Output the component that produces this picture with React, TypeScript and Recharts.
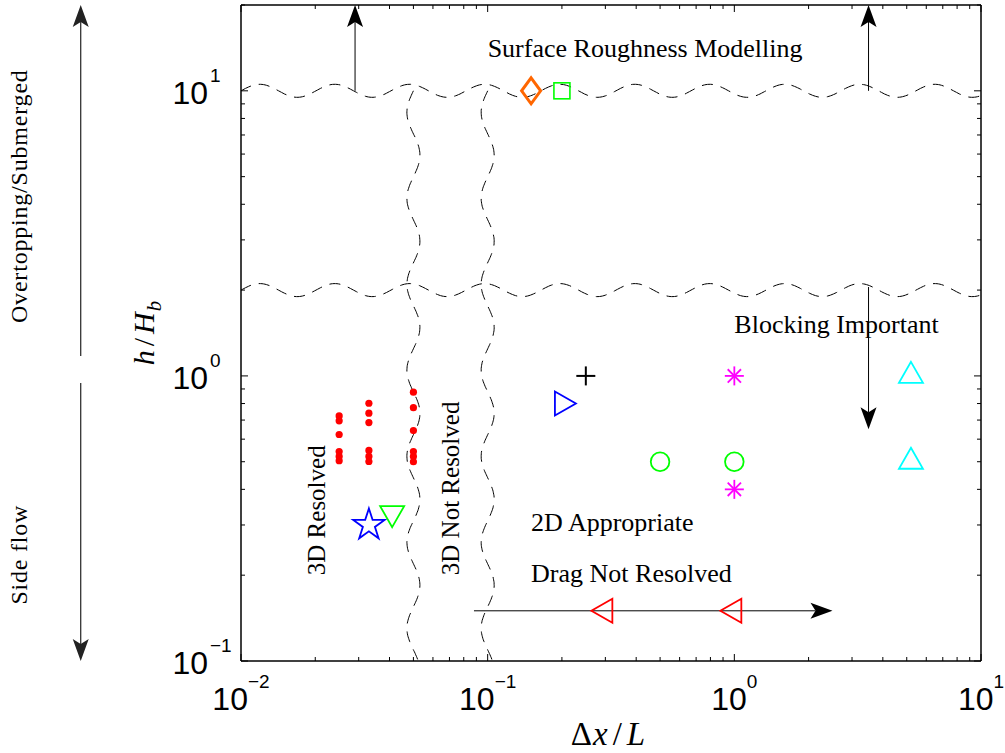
import React from "react";
import { ScatterChart, Scatter, XAxis, YAxis, ReferenceLine, ReferenceDot } from "recharts";

// axis ticks (majors get labels, the rest are minor marks)
const xTicks = [
  0.01, 0.02, 0.03, 0.04, 0.05, 0.06, 0.07, 0.08, 0.09,
  0.1, 0.2, 0.3, 0.4, 0.5, 0.6, 0.7, 0.8, 0.9,
  1, 2, 3, 4, 5, 6, 7, 8, 9, 10,
];
const yTicks = [
  0.1, 0.2, 0.3, 0.4, 0.5, 0.6, 0.7, 0.8, 0.9,
  1, 2, 3, 4, 5, 6, 7, 8, 9, 10, 20,
];

// measured cases
const diamondPoints = [{ x: 0.15, y: 10 }];
const squarePoints = [{ x: 0.2, y: 10 }];
const redDotPoints = [
  { x: 0.025, y: 0.724 }, { x: 0.025, y: 0.696 }, { x: 0.025, y: 0.623 },
  { x: 0.025, y: 0.543 }, { x: 0.025, y: 0.522 }, { x: 0.025, y: 0.504 },
  { x: 0.033, y: 0.802 }, { x: 0.033, y: 0.74 }, { x: 0.033, y: 0.686 },
  { x: 0.033, y: 0.548 }, { x: 0.033, y: 0.522 }, { x: 0.033, y: 0.501 },
  { x: 0.05, y: 0.877 }, { x: 0.05, y: 0.774 }, { x: 0.05, y: 0.643 },
  { x: 0.05, y: 0.543 }, { x: 0.05, y: 0.522 }, { x: 0.05, y: 0.5 },
];
const starPoints = [{ x: 0.033, y: 0.3 }];
const downTrianglePoints = [{ x: 0.041, y: 0.33 }];
const rightTrianglePoints = [{ x: 0.2, y: 0.8 }];
const plusPoints = [{ x: 0.25, y: 1 }];
const circlePoints = [{ x: 0.5, y: 0.5 }, { x: 1, y: 0.5 }];
const asteriskPoints = [{ x: 1, y: 1 }, { x: 1, y: 0.4 }];
const upTrianglePoints = [{ x: 5.2, y: 1 }, { x: 5.2, y: 0.5 }];
const leftTrianglePoints = [{ x: 0.3, y: 0.15 }, { x: 1, y: 0.15 }];

// regime boundaries (drawn wavy)
const horizontalBoundaries = [10, 2];
const verticalBoundaries = [
  { x: 0.05, top: 10, bottom: 0.1 },
  { x: 0.1, top: 10, bottom: 0.1 },
];

// arrows
const plotArrows = [
  { from: { x: 0.029, y: 10 }, to: { x: 0.029, y: 20 } },
  { from: { x: 3.5, y: 10 }, to: { x: 3.5, y: 20 } },
  { from: { x: 3.5, y: 2.05 }, to: { x: 3.5, y: 0.65 } },
  { from: { x: 0.088, y: 0.15 }, to: { x: 2.5, y: 0.15 } },
];
const marginArrows = [
  { from: { x: 0.00224, y: 1.175 }, to: { x: 0.00224, y: 20 } },
  { from: { x: 0.00224, y: 0.945 }, to: { x: 0.00224, y: 0.1 } },
];

// text notes
const plotNotes = [
  { x: 0.1, y: 13.1, text: "Surface Roughness Modelling" },
  { x: 1.0, y: 1.41, text: "Blocking Important" },
  { x: 0.15, y: 0.285, text: "2D Appropriate" },
  { x: 0.15, y: 0.19, text: "Drag Not Resolved" },
];
const rotatedNotes = [
  { x: 0.0219, y: 0.2, text: "3D Resolved" },
  { x: 0.0765, y: 0.2, text: "3D Not Resolved" },
];
const marginNotes = [
  { x: 0.00136, y: 4.27, text: "Overtopping/Submerged" },
  { x: 0.00136, y: 0.236, text: "Side flow" },
];

const SERIF = "'Liberation Serif', 'Times New Roman', serif";
const SANS = "'Liberation Sans', Arial, Helvetica, sans-serif";

const isMajor = (v: number) => Math.abs(Math.log10(v) - Math.round(Math.log10(v))) < 1e-6;
const expText = (v: number) => {
  const e = Math.round(Math.log10(v));
  return e < 0 ? `\u2212${-e}` : `${e}`;
};

const MAJOR_LEN = 7;
const MINOR_LEN = 4;

function BottomTick({ x, y, payload }: any) {
  const v = payload.value;
  const major = isMajor(v);
  return (
    <g>
      <line x1={x} y1={y} x2={x} y2={y - (major ? MAJOR_LEN : MINOR_LEN)} stroke="#000" strokeWidth={1} />
      {major && (
        <text x={x} y={y + 49} textAnchor="middle" fontFamily={SANS} fill="#000">
          <tspan fontSize={32}>10</tspan>
          <tspan fontSize={19} dy={-22}>{expText(v)}</tspan>
        </text>
      )}
    </g>
  );
}

function TopTick({ x, y, payload }: any) {
  const major = isMajor(payload.value);
  return <line x1={x} y1={y} x2={x} y2={y + (major ? MAJOR_LEN : MINOR_LEN)} stroke="#000" strokeWidth={1} />;
}

function LeftTick({ x, y, payload }: any) {
  const v = payload.value;
  const major = isMajor(v);
  return (
    <g>
      <line x1={x} y1={y} x2={x + (major ? MAJOR_LEN : MINOR_LEN)} y2={y} stroke="#000" strokeWidth={1} />
      {major && (
        <g fontFamily={SANS} fill="#000">
          <text x={x - 33} y={y + 13} textAnchor="end" fontSize={32}>10</text>
          <text x={x - 31} y={y - 9} textAnchor="start" fontSize={19}>{expText(v)}</text>
        </g>
      )}
    </g>
  );
}

function RightTick({ x, y, payload }: any) {
  const major = isMajor(payload.value);
  return <line x1={x} y1={y} x2={x - (major ? MAJOR_LEN : MINOR_LEN)} y2={y} stroke="#000" strokeWidth={1} />;
}

function XTitle({ viewBox }: any) {
  const cx = viewBox.x + viewBox.width / 2 - 3;
  const by = viewBox.y + 84;
  return (
    <text x={cx} y={by} textAnchor="middle" fontFamily={SERIF} fontSize={33} fill="#000">
      <tspan>Δ</tspan>
      <tspan fontStyle="italic" dx={1}>x</tspan>
      <tspan dx={5}>/</tspan>
      <tspan fontStyle="italic" dx={5}>L</tspan>
    </text>
  );
}

function YTitle({ viewBox }: any) {
  const bx = viewBox.x + viewBox.width - 87;
  const cy = viewBox.y + viewBox.height / 2;
  return (
    <text
      x={bx}
      y={cy}
      textAnchor="middle"
      transform={`rotate(-90 ${bx} ${cy})`}
      fontFamily={SERIF}
      fontSize={30}
      fill="#000"
    >
      <tspan fontStyle="italic">h</tspan>
      <tspan dx={4}>/</tspan>
      <tspan fontStyle="italic" dx={4}>H</tspan>
      <tspan fontStyle="italic" fontSize={21} dy={7} dx={1}>b</tspan>
    </text>
  );
}

// wavy dashed boundaries
const WAVE_AMP = 6.5;
const WAVE_X_PERIOD = 75;
const WAVE_Y_PERIOD = 86;

const hWave = (p: any) => {
  const x1 = Math.min(p.x1, p.x2);
  const x2 = Math.max(p.x1, p.x2);
  const pts: string[] = [];
  for (let x = x1; x <= x2 + 0.01; x += 1.5) {
    const y = p.y1 - WAVE_AMP * Math.sin((2 * Math.PI * (x - x1)) / WAVE_X_PERIOD);
    pts.push(`${x.toFixed(1)},${y.toFixed(1)}`);
  }
  return <polyline points={pts.join(" ")} fill="none" stroke="#000" strokeWidth={1} strokeDasharray="11 8" />;
};

const vWave = (p: any) => {
  const y1 = Math.min(p.y1, p.y2);
  const y2 = Math.max(p.y1, p.y2);
  const pts: string[] = [];
  for (let y = y1; y <= y2 + 0.01; y += 1.5) {
    const x = p.x1 - WAVE_AMP * Math.sin((2 * Math.PI * (y - y1)) / WAVE_Y_PERIOD);
    pts.push(`${x.toFixed(1)},${y.toFixed(1)}`);
  }
  return <polyline points={pts.join(" ")} fill="none" stroke="#000" strokeWidth={1} strokeDasharray="11 8" />;
};

// arrows with a notched head
const arrowShape = (color: string, width: number) => (p: any) => {
  const { x1, y1, x2, y2 } = p;
  const L = 22;
  const W = 16;
  const notch = 5;
  const dx = x2 - x1;
  const dy = y2 - y1;
  const len = Math.hypot(dx, dy) || 1;
  const ux = dx / len;
  const uy = dy / len;
  const nx = -uy;
  const ny = ux;
  const bx = x2 - ux * L;
  const by = y2 - uy * L;
  const mx = x2 - ux * (L - notch);
  const my = y2 - uy * (L - notch);
  const d = `M${x2},${y2} L${bx + (nx * W) / 2},${by + (ny * W) / 2} L${mx},${my} L${bx - (nx * W) / 2},${by - (ny * W) / 2} Z`;
  return (
    <g>
      <line x1={x1} y1={y1} x2={mx} y2={my} stroke={color} strokeWidth={width} />
      <path d={d} fill={color} stroke="none" />
    </g>
  );
};

// notes
const noteShape = (text: string) => (p: any) => (
  <text x={p.cx} y={p.cy} fontFamily={SERIF} fontSize={26} fill="#000">{text}</text>
);
const rotatedNoteShape = (text: string) => (p: any) => (
  <text x={p.cx} y={p.cy} transform={`rotate(-90 ${p.cx} ${p.cy})`} fontFamily={SERIF} fontSize={25} fill="#000">
    {text}
  </text>
);
const marginNoteShape = (text: string) => (p: any) => (
  <text
    x={p.cx}
    y={p.cy}
    textAnchor="middle"
    transform={`rotate(-90 ${p.cx} ${p.cy})`}
    fontFamily={SERIF}
    fontSize={24}
    letterSpacing={0.8}
    fill="#000"
  >
    {text}
  </text>
);

// markers
const GREEN = "#00ff00";
const ORANGE = "#ff6600";

const diamondShape = ({ cx, cy }: any) => (
  <path d={`M${cx},${cy - 13} L${cx + 9.5},${cy} L${cx},${cy + 13} L${cx - 9.5},${cy} Z`} fill="none" stroke={ORANGE} strokeWidth={3} />
);
const squareShape = ({ cx, cy }: any) => (
  <rect x={cx - 8} y={cy - 8} width={16} height={16} fill="none" stroke={GREEN} strokeWidth={1.6} />
);
const dotShape = ({ cx, cy }: any) => <circle cx={cx} cy={cy} r={3.6} fill="#ff0000" />;
const circleShape = ({ cx, cy }: any) => <circle cx={cx} cy={cy} r={9.3} fill="none" stroke={GREEN} strokeWidth={1.8} />;
const starShape = ({ cx, cy }: any) => {
  const R = 16.5;
  const r = R * 0.382;
  const pts: string[] = [];
  for (let i = 0; i < 10; i++) {
    const a = ((-90 + i * 36) * Math.PI) / 180;
    const rad = i % 2 === 0 ? R : r;
    pts.push(`${(cx + rad * Math.cos(a)).toFixed(1)},${(cy + rad * Math.sin(a)).toFixed(1)}`);
  }
  return <polygon points={pts.join(" ")} fill="none" stroke="#0000ff" strokeWidth={1.8} />;
};
const triangleShape = (dir: "up" | "down" | "left" | "right", color: string) => ({ cx, cy }: any) => {
  const h = 21;
  const w = 24;
  let pts: number[][];
  if (dir === "up") pts = [[cx, cy - (2 * h) / 3], [cx + w / 2, cy + h / 3], [cx - w / 2, cy + h / 3]];
  else if (dir === "down") pts = [[cx, cy + (2 * h) / 3], [cx + w / 2, cy - h / 3], [cx - w / 2, cy - h / 3]];
  else if (dir === "left") pts = [[cx - (2 * h) / 3, cy], [cx + h / 3, cy - w / 2], [cx + h / 3, cy + w / 2]];
  else pts = [[cx + (2 * h) / 3, cy], [cx - h / 3, cy - w / 2], [cx - h / 3, cy + w / 2]];
  return <polygon points={pts.map((q) => q.join(",")).join(" ")} fill="none" stroke={color} strokeWidth={1.8} />;
};
const plusShape = ({ cx, cy }: any) => (
  <g stroke="#000" strokeWidth={2}>
    <line x1={cx - 9.5} y1={cy} x2={cx + 9.5} y2={cy} />
    <line x1={cx} y1={cy - 9.5} x2={cx} y2={cy + 9.5} />
  </g>
);
const asteriskShape = ({ cx, cy }: any) => {
  const a = 9.5;
  const d = a * 0.7;
  return (
    <g stroke="#ff00ff" strokeWidth={1.8}>
      <line x1={cx - a} y1={cy} x2={cx + a} y2={cy} />
      <line x1={cx} y1={cy - a} x2={cx} y2={cy + a} />
      <line x1={cx - d} y1={cy - d} x2={cx + d} y2={cy + d} />
      <line x1={cx - d} y1={cy + d} x2={cx + d} y2={cy - d} />
    </g>
  );
};

const axisLine = { stroke: "#000", strokeWidth: 1.5 };

export default function App() {
  return (
    <div style={{ position: "absolute", left: 0, top: 0, width: 1005, height: 753, background: "#fff" }}>
      <ScatterChart width={1005} height={753} margin={{ top: 4, right: 23, bottom: 91, left: 240 }}>
        <XAxis
          xAxisId="b"
          type="number"
          dataKey="x"
          scale="log"
          domain={[0.01, 10]}
          allowDataOverflow
          ticks={xTicks}
          interval={0}
          orientation="bottom"
          height={1}
          tickSize={0}
          tickMargin={0}
          tickLine={false}
          axisLine={axisLine}
          tick={(p: any) => <BottomTick {...p} />}
          label={<XTitle />}
        />
        <XAxis
          xAxisId="t"
          type="number"
          dataKey="x"
          scale="log"
          domain={[0.01, 10]}
          allowDataOverflow
          ticks={xTicks}
          interval={0}
          orientation="top"
          height={1}
          tickSize={0}
          tickMargin={0}
          tickLine={false}
          axisLine={axisLine}
          tick={(p: any) => <TopTick {...p} />}
        />
        <YAxis
          yAxisId="l"
          type="number"
          dataKey="y"
          scale="log"
          domain={[0.1, 20]}
          allowDataOverflow
          ticks={yTicks}
          interval={0}
          orientation="left"
          width={1}
          tickSize={0}
          tickMargin={0}
          tickLine={false}
          axisLine={axisLine}
          tick={(p: any) => <LeftTick {...p} />}
          label={<YTitle />}
        />
        <YAxis
          yAxisId="r"
          type="number"
          dataKey="y"
          scale="log"
          domain={[0.1, 20]}
          allowDataOverflow
          ticks={yTicks}
          interval={0}
          orientation="right"
          width={1}
          tickSize={0}
          tickMargin={0}
          tickLine={false}
          axisLine={axisLine}
          tick={(p: any) => <RightTick {...p} />}
        />

        {horizontalBoundaries.map((y) => (
          <ReferenceLine key={`h${y}`} xAxisId="b" yAxisId="l" y={y} shape={hWave} ifOverflow="visible" />
        ))}
        {verticalBoundaries.map((b) => (
          <ReferenceLine
            key={`v${b.x}`}
            xAxisId="b"
            yAxisId="l"
            segment={[{ x: b.x, y: b.top }, { x: b.x, y: b.bottom }]}
            shape={vWave}
            ifOverflow="visible"
          />
        ))}
        {plotArrows.map((a, i) => (
          <ReferenceLine
            key={`a${i}`}
            xAxisId="b"
            yAxisId="l"
            segment={[a.from, a.to]}
            shape={arrowShape("#000", 1)}
            ifOverflow="visible"
          />
        ))}
        {marginArrows.map((a, i) => (
          <ReferenceLine
            key={`m${i}`}
            xAxisId="b"
            yAxisId="l"
            segment={[a.from, a.to]}
            shape={arrowShape("#222", 1.2)}
            ifOverflow="visible"
          />
        ))}

        {plotNotes.map((n) => (
          <ReferenceDot key={n.text} xAxisId="b" yAxisId="l" x={n.x} y={n.y} r={0} shape={noteShape(n.text)} ifOverflow="visible" />
        ))}
        {rotatedNotes.map((n) => (
          <ReferenceDot key={n.text} xAxisId="b" yAxisId="l" x={n.x} y={n.y} r={0} shape={rotatedNoteShape(n.text)} ifOverflow="visible" />
        ))}
        {marginNotes.map((n) => (
          <ReferenceDot key={n.text} xAxisId="b" yAxisId="l" x={n.x} y={n.y} r={0} shape={marginNoteShape(n.text)} ifOverflow="visible" />
        ))}

        <Scatter xAxisId="b" yAxisId="l" data={diamondPoints} shape={diamondShape} isAnimationActive={false} />
        <Scatter xAxisId="b" yAxisId="l" data={squarePoints} shape={squareShape} isAnimationActive={false} />
        <Scatter xAxisId="b" yAxisId="l" data={redDotPoints} shape={dotShape} isAnimationActive={false} />
        <Scatter xAxisId="b" yAxisId="l" data={starPoints} shape={starShape} isAnimationActive={false} />
        <Scatter xAxisId="b" yAxisId="l" data={downTrianglePoints} shape={triangleShape("down", GREEN)} isAnimationActive={false} />
        <Scatter xAxisId="b" yAxisId="l" data={rightTrianglePoints} shape={triangleShape("right", "#0000ff")} isAnimationActive={false} />
        <Scatter xAxisId="b" yAxisId="l" data={plusPoints} shape={plusShape} isAnimationActive={false} />
        <Scatter xAxisId="b" yAxisId="l" data={circlePoints} shape={circleShape} isAnimationActive={false} />
        <Scatter xAxisId="b" yAxisId="l" data={asteriskPoints} shape={asteriskShape} isAnimationActive={false} />
        <Scatter xAxisId="b" yAxisId="l" data={upTrianglePoints} shape={triangleShape("up", "#00ffff")} isAnimationActive={false} />
        <Scatter xAxisId="b" yAxisId="l" data={leftTrianglePoints} shape={triangleShape("left", "#ff0000")} isAnimationActive={false} />
      </ScatterChart>
    </div>
  );
}
